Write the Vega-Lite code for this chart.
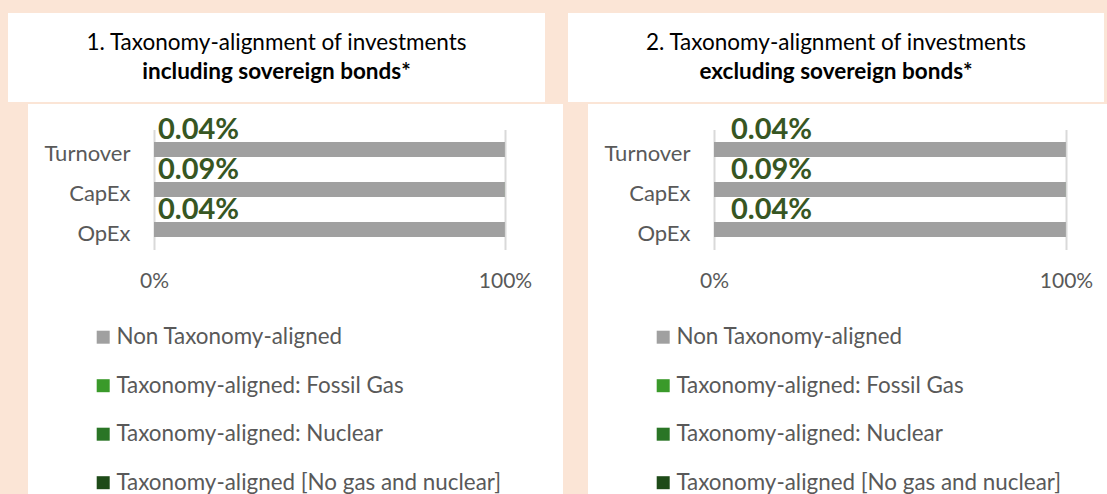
{
  "$schema": "https://vega.github.io/schema/vega-lite/v6.json",
  "background": "#FBE5D6",
  "padding": {"left": 8, "top": 11, "right": 0, "bottom": 0},
  "config": {"view": {"fill": "#FFFFFF", "stroke": null}, "font": "Lato"},
  "datasets": {
    "titles": [
      {"panel": "including", "line": 1, "text": "1. Taxonomy-alignment of investments"},
      {"panel": "including", "line": 2, "text": "including sovereign bonds*"},
      {"panel": "excluding", "line": 1, "text": "2. Taxonomy-alignment of investments"},
      {"panel": "excluding", "line": 2, "text": "excluding sovereign bonds*"}
    ],
    "bars": [
      {"panel": "including", "category": "Turnover", "series": "Taxonomy-aligned [No gas and nuclear]", "share": 0.0004},
      {"panel": "including", "category": "Turnover", "series": "Taxonomy-aligned: Fossil Gas", "share": 0},
      {"panel": "including", "category": "Turnover", "series": "Taxonomy-aligned: Nuclear", "share": 0},
      {"panel": "including", "category": "Turnover", "series": "Non Taxonomy-aligned", "share": 0.9996},
      {"panel": "including", "category": "CapEx", "series": "Taxonomy-aligned [No gas and nuclear]", "share": 0.0009},
      {"panel": "including", "category": "CapEx", "series": "Taxonomy-aligned: Fossil Gas", "share": 0},
      {"panel": "including", "category": "CapEx", "series": "Taxonomy-aligned: Nuclear", "share": 0},
      {"panel": "including", "category": "CapEx", "series": "Non Taxonomy-aligned", "share": 0.9991},
      {"panel": "including", "category": "OpEx", "series": "Taxonomy-aligned [No gas and nuclear]", "share": 0.0004},
      {"panel": "including", "category": "OpEx", "series": "Taxonomy-aligned: Fossil Gas", "share": 0},
      {"panel": "including", "category": "OpEx", "series": "Taxonomy-aligned: Nuclear", "share": 0},
      {"panel": "including", "category": "OpEx", "series": "Non Taxonomy-aligned", "share": 0.9996},
      {"panel": "excluding", "category": "Turnover", "series": "Taxonomy-aligned [No gas and nuclear]", "share": 0.0004},
      {"panel": "excluding", "category": "Turnover", "series": "Taxonomy-aligned: Fossil Gas", "share": 0},
      {"panel": "excluding", "category": "Turnover", "series": "Taxonomy-aligned: Nuclear", "share": 0},
      {"panel": "excluding", "category": "Turnover", "series": "Non Taxonomy-aligned", "share": 0.9996},
      {"panel": "excluding", "category": "CapEx", "series": "Taxonomy-aligned [No gas and nuclear]", "share": 0.0009},
      {"panel": "excluding", "category": "CapEx", "series": "Taxonomy-aligned: Fossil Gas", "share": 0},
      {"panel": "excluding", "category": "CapEx", "series": "Taxonomy-aligned: Nuclear", "share": 0},
      {"panel": "excluding", "category": "CapEx", "series": "Non Taxonomy-aligned", "share": 0.9991},
      {"panel": "excluding", "category": "OpEx", "series": "Taxonomy-aligned [No gas and nuclear]", "share": 0.0004},
      {"panel": "excluding", "category": "OpEx", "series": "Taxonomy-aligned: Fossil Gas", "share": 0},
      {"panel": "excluding", "category": "OpEx", "series": "Taxonomy-aligned: Nuclear", "share": 0},
      {"panel": "excluding", "category": "OpEx", "series": "Non Taxonomy-aligned", "share": 0.9996}
    ]
  },
  "resolve": {"scale": {"color": "independent"}, "legend": {"color": "independent"}},
  "spacing": 5,
  "hconcat": [
    {
      "spacing": -4,
      "resolve": {"scale": {"color": "independent"}, "legend": {"color": "independent"}},
      "vconcat": [
        {
          "width": 497, "height": 49,
          "view": {"fill": "#FFFFFF", "stroke": "#FFFFFF", "strokeWidth": 40},
          "data": {"name": "titles"},
          "transform": [{"filter": "datum.panel === 'including'"}],
          "encoding": {
            "y": {"field": "line", "type": "ordinal", "axis": null, "scale": {"type": "point", "padding": 0.32}},
            "text": {"field": "text"}
          },
          "layer": [
            {"transform": [{"filter": "datum.line === 1"}], "mark": {"type": "text", "fontSize": 22.5, "color": "#000000", "baseline": "middle", "align": "center"}},
            {"transform": [{"filter": "datum.line === 2"}], "mark": {"type": "text", "fontSize": 22.5, "fontWeight": "bold", "color": "#000000", "baseline": "middle", "align": "center"}}
          ]
        },
        {
          "width": 535, "height": 394,
          "data": {"name": "bars"},
          "transform": [{"filter": "datum.panel === 'including'"}],
          "encoding": {
            "y": {
              "field": "category", "type": "nominal", "sort": ["Turnover", "CapEx", "OpEx"],
              "scale": {"range": [25.5, 145.5], "paddingInner": 0.625, "paddingOuter": 0.3125},
              "axis": {"orient": "left", "offset": -126, "domain": false, "ticks": false, "grid": false, "labelPadding": 24, "labelFontSize": 22, "labelColor": "#595959", "labelOffset": 4, "title": null}
            }
          },
          "layer": [
            {
              "mark": {"type": "bar"},
              "encoding": {
                "x": {"field": "share", "type": "quantitative", "stack": "zero", "scale": {"domain": [0, 1], "range": [126, 477]},
                      "axis": {"values": [0, 1], "format": ".0%", "orient": "top", "offset": -183, "domain": false, "ticks": false, "grid": true, "gridColor": "#D9D9D9", "gridWidth": 2, "labelPadding": 0, "labelBaseline": "alphabetic", "labelFontSize": 21, "labelColor": "#595959", "labelFlush": false, "title": null}},
                "color": {"field": "series", "type": "nominal",
                  "scale": {"domain": ["Non Taxonomy-aligned", "Taxonomy-aligned: Fossil Gas", "Taxonomy-aligned: Nuclear", "Taxonomy-aligned [No gas and nuclear]"], "range": ["#A0A0A0", "#3A9A2A", "#2A7526", "#1E4B18"]},
                  "legend": {"title": null, "orient": "none", "legendX": 64, "legendY": 222, "direction": "vertical", "symbolType": "square", "symbolSize": 169, "symbolStrokeWidth": 0, "labelFontSize": 22.4, "labelColor": "#595959", "rowPadding": 25.5, "labelOffset": 2, "labelLimit": 450, "padding": 0}}
              }
            },
            {
              "transform": [{"filter": "datum.series === 'Taxonomy-aligned [No gas and nuclear]'"}],
              "mark": {"type": "text", "align": "left", "baseline": "alphabetic", "dx": 4, "dy": -10.5, "fontSize": 29, "fontWeight": "bold", "color": "#375623"},
              "encoding": {"x": {"datum": 0, "type": "quantitative"}, "text": {"field": "share", "format": ".2%"}}
            }
          ]
        }
      ]
    },
    {
      "spacing": -4,
      "resolve": {"scale": {"color": "independent"}, "legend": {"color": "independent"}},
      "vconcat": [
        {
          "width": 496, "height": 49,
          "view": {"fill": "#FFFFFF", "stroke": "#FFFFFF", "strokeWidth": 40},
          "data": {"name": "titles"},
          "transform": [{"filter": "datum.panel === 'excluding'"}],
          "encoding": {
            "y": {"field": "line", "type": "ordinal", "axis": null, "scale": {"type": "point", "padding": 0.32}},
            "text": {"field": "text"}
          },
          "layer": [
            {"transform": [{"filter": "datum.line === 1"}], "mark": {"type": "text", "fontSize": 22.5, "color": "#000000", "baseline": "middle", "align": "center"}},
            {"transform": [{"filter": "datum.line === 2"}], "mark": {"type": "text", "fontSize": 22.5, "fontWeight": "bold", "color": "#000000", "baseline": "middle", "align": "center"}}
          ]
        },
        {
          "width": 519, "height": 394,
          "data": {"name": "bars"},
          "transform": [{"filter": "datum.panel === 'excluding'"}],
          "encoding": {
            "y": {
              "field": "category", "type": "nominal", "sort": ["Turnover", "CapEx", "OpEx"],
              "scale": {"range": [25.5, 145.5], "paddingInner": 0.625, "paddingOuter": 0.3125},
              "axis": {"orient": "left", "offset": -126, "domain": false, "ticks": false, "grid": false, "labelPadding": 24, "labelFontSize": 22, "labelColor": "#595959", "labelOffset": 4, "title": null}
            }
          },
          "layer": [
            {
              "mark": {"type": "bar"},
              "encoding": {
                "x": {"field": "share", "type": "quantitative", "stack": "zero", "scale": {"domain": [0, 1], "range": [126, 478]},
                      "axis": {"values": [0, 1], "format": ".0%", "orient": "top", "offset": -183, "domain": false, "ticks": false, "grid": true, "gridColor": "#D9D9D9", "gridWidth": 2, "labelPadding": 0, "labelBaseline": "alphabetic", "labelFontSize": 21, "labelColor": "#595959", "labelFlush": false, "title": null}},
                "color": {"field": "series", "type": "nominal",
                  "scale": {"domain": ["Non Taxonomy-aligned", "Taxonomy-aligned: Fossil Gas", "Taxonomy-aligned: Nuclear", "Taxonomy-aligned [No gas and nuclear]"], "range": ["#A0A0A0", "#3A9A2A", "#2A7526", "#1E4B18"]},
                  "legend": {"title": null, "orient": "none", "legendX": 64, "legendY": 222, "direction": "vertical", "symbolType": "square", "symbolSize": 169, "symbolStrokeWidth": 0, "labelFontSize": 22.4, "labelColor": "#595959", "rowPadding": 25.5, "labelOffset": 2, "labelLimit": 450, "padding": 0}}
              }
            },
            {
              "transform": [{"filter": "datum.series === 'Taxonomy-aligned [No gas and nuclear]'"}],
              "mark": {"type": "text", "align": "left", "baseline": "alphabetic", "dx": 17, "dy": -10.5, "fontSize": 29, "fontWeight": "bold", "color": "#375623"},
              "encoding": {"x": {"datum": 0, "type": "quantitative"}, "text": {"field": "share", "format": ".2%"}}
            }
          ]
        }
      ]
    }
  ]
}
